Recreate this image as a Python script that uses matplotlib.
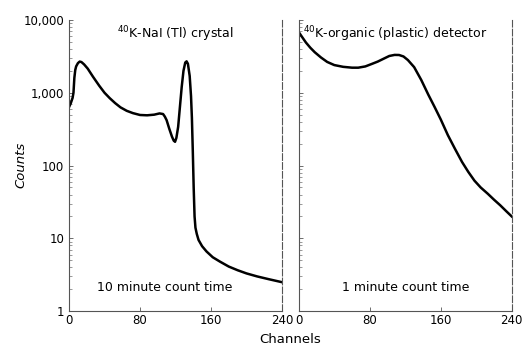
import matplotlib
import numpy as np

matplotlib.use("Agg")
import matplotlib.pyplot as plt
from matplotlib.ticker import FixedLocator, FuncFormatter

# NaI(Tl) crystal spectrum (channel, counts)
nai_ch = [0, 2, 4, 5, 6, 7, 8, 10, 12, 14, 17, 21, 27, 34, 40, 46, 52, 58, 65, 72,
          80, 88, 96, 102, 106, 108, 110, 113, 116, 118, 119.5, 121, 123, 125, 127,
          129, 131, 132.5, 134, 136, 137.5, 138.5, 139.5, 140.5, 141.5, 142.5, 144,
          146, 150, 155, 162, 170, 180, 190, 200, 212, 225, 240]
nai_counts = [635, 720, 850, 1000, 1600, 2050, 2300, 2550, 2680, 2640, 2450, 2150,
              1660, 1250, 1000, 840, 720, 630, 565, 525, 495, 490, 500, 520, 510, 470,
              420, 320, 250, 220, 212, 240, 340, 640, 1200, 2000, 2600, 2700, 2500,
              1700, 900, 450, 160, 50, 20, 14, 11.5, 9.5, 7.8, 6.6, 5.5, 4.8, 4.1, 3.65,
              3.3, 3.0, 2.75, 2.5]

# organic (plastic) detector spectrum
org_ch = [0, 3, 8, 13, 18, 25, 32, 40, 50, 60, 67, 75, 82, 89, 96, 102, 108, 113,
          118, 123, 130, 138, 146, 153, 160, 168, 176, 184, 191, 198, 205, 213, 220,
          227, 234, 240]
org_counts = [6800, 6000, 4900, 4150, 3600, 3050, 2650, 2400, 2270, 2210, 2210, 2300,
              2480, 2680, 2950, 3200, 3310, 3300, 3150, 2810, 2250, 1500, 940, 640,
              430, 262, 170, 112, 82, 62, 50, 41, 34, 28.5, 23.5, 20]

yticks = [1, 10, 100, 1000, 10000]
xticks = [0, 80, 160, 240]

fig = plt.figure(figsize=(5.27, 3.5), dpi=100)
ax1 = fig.add_axes([0.131, 0.111, 0.404, 0.832])
ax2 = fig.add_axes([0.567, 0.111, 0.404, 0.832])

for ax in (ax1, ax2):
    ax.set_yscale("log")
    ax.set_ylim(1, 10000)
    ax.set_xlim(0, 240)
    ax.xaxis.set_major_locator(FixedLocator(xticks))
    ax.set_xticklabels([str(t) for t in xticks], fontsize=8.5)
    ax.spines["top"].set_visible(False)
    ax.spines["right"].set_linestyle((0, (6, 2)))
    for s in ax.spines.values():
        s.set_color("#555555")
        s.set_linewidth(0.8)
    ax.tick_params(axis="both", direction="in", length=3, width=0.6, color="#555555")
    ax.tick_params(axis="y", which="minor", direction="in", length=2, color="#888888")
    ax.tick_params(axis="x", pad=2)

ax1.yaxis.set_major_locator(FixedLocator(yticks))
ax1.yaxis.set_major_formatter(FuncFormatter(lambda v, p: f"{int(v):,}"))
ax1.tick_params(axis="y", labelsize=8.5)
ax2.tick_params(axis="y", which="both", labelleft=False)

ax1.plot(nai_ch, nai_counts, color="black", lw=1.8, solid_joinstyle="round")
ax2.plot(org_ch, org_counts, color="black", lw=1.8, solid_joinstyle="round")

ax1.text(0.5, 0.95, r"$^{40}$K-NaI (Tl) crystal", transform=ax1.transAxes,
         ha="center", va="center", fontsize=9)
ax1.text(0.45, 0.08, "10 minute count time", transform=ax1.transAxes,
         ha="center", va="center", fontsize=9)
ax2.text(0.02, 0.95, r"$^{40}$K-organic (plastic) detector", transform=ax2.transAxes,
         ha="left", va="center", fontsize=9)
ax2.text(0.5, 0.08, "1 minute count time", transform=ax2.transAxes,
         ha="center", va="center", fontsize=9)

fig.text(0.04, 0.53, "Counts", rotation=90, style="italic", fontsize=9.5,
         ha="center", va="center")
fig.text(0.55, 0.03, "Channels", fontsize=9.5, ha="center", va="center")

fig.savefig("out.png", dpi=100)
